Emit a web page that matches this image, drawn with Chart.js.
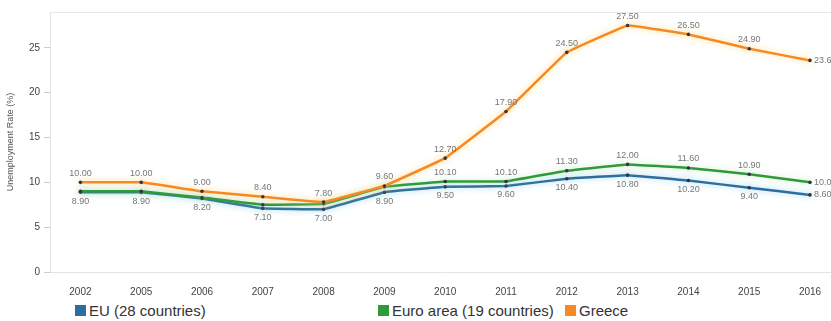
<!DOCTYPE html>
<html lang="en">
<head>
  <meta charset="utf-8"/>
  <title>Unemployment Rate – EU, Euro area, Greece</title>
  <script src="https://cdn.jsdelivr.net/npm/chart.js"></script>
  <style>
    html,body{margin:0;padding:0;background:#fff;overflow:hidden}
    body{width:831px;height:321px;position:relative;font-family:"Liberation Sans",Arial,sans-serif}
    #chart{position:absolute;left:0;top:0}
    .legend{position:absolute;top:302px;font-size:15px;color:#333;display:flex;align-items:center;white-space:nowrap}
    .legend i{display:inline-block;width:11px;height:11px;margin-right:3px}
  </style>
</head>
<body>
<canvas id="chart" width="845" height="295"></canvas>
<div id="legend"></div>

<script>
const years=['2002','2005','2006','2007','2008','2009','2010','2011','2012','2013','2014','2015','2016'];
const eu28=[8.9,8.9,8.2,7.1,7.0,8.9,9.5,9.6,10.4,10.8,10.2,9.4,8.6];
const euroArea=[9.0,9.0,8.3,7.5,7.6,9.5,10.1,10.1,11.3,12.0,11.6,10.9,10.0];
const greece=[10.0,10.0,9.0,8.4,7.8,9.6,12.7,17.9,24.5,27.5,26.5,24.9,23.6];
const yTicks=[0,5,10,15,20,25];
const yMax=29;

const seriesNames=['EU (28 countries)','Euro area (19 countries)','Greece'];
const seriesColors=['#2e6e9e','#2f9a3a','#f58a25'];
const glowColors=['rgba(120,200,240,0.7)','rgba(150,220,150,0.5)','rgba(255,210,110,0.8)'];
const labelSide=['below','above','above'];
const legendX=[75,378,565];

// legend under the chart
const lg=document.getElementById('legend');
seriesNames.forEach((n,i)=>{
  const d=document.createElement('div');d.className='legend';d.style.left=legendX[i]+'px';
  d.innerHTML=`<i style="background:${seriesColors[i]}"></i>${n}`;
  lg.appendChild(d);
});

// soft halo round each line
const glow={
  id:'glow',
  beforeDatasetDraw(chart,args){
    const c=chart.ctx;c.save();
    c.shadowColor=chart.data.datasets[args.index].glow;c.shadowBlur=6;
  },
  afterDatasetDraw(chart){chart.ctx.restore();}
};

// value labels, skipped when they would collide; last point gets its label on the right
const valueLabels={
  id:'valueLabels',
  afterDatasetsDraw(chart){
    const c=chart.ctx,boxes=[];
    c.save();
    c.font='9px "Liberation Sans",Arial,sans-serif';
    c.fillStyle='#777';c.textBaseline='middle';
    [0,2,1].forEach(di=>{
      const ds=chart.data.datasets[di];
      const meta=chart.getDatasetMeta(di);
      meta.data.forEach((pt,i)=>{
        const txt=ds.data[i].toFixed(2),w=c.measureText(txt).width,h=9;
        if(i===meta.data.length-1){
          c.textAlign='left';c.fillText(txt,pt.x+4,pt.y);
          boxes.push({x:pt.x+4,y:pt.y-h/2,w,h});
          return;
        }
        c.textAlign='center';
        const tries=ds.side==='above'?[-9,9]:[9,-9];
        for(const dy of tries){
          const b={x:pt.x-w/2,y:pt.y+dy-h/2,w,h};
          if(!boxes.some(o=>b.x<o.x+o.w&&o.x<b.x+b.w&&b.y<o.y+o.h&&o.y<b.y+b.h)){
            boxes.push(b);c.fillText(txt,pt.x,pt.y+dy);break;
          }
        }
      });
    });
    c.restore();
  }
};

const mk=(i,data)=>({
  label:seriesNames[i],data,side:labelSide[i],glow:glowColors[i],
  borderColor:seriesColors[i],backgroundColor:seriesColors[i],
  borderWidth:2.5,tension:0.05,
  pointRadius:1.8,pointBackgroundColor:'#334',pointBorderWidth:0
});

new Chart(document.getElementById('chart'),{
  type:'line',
  data:{labels:years,datasets:[mk(2,greece),mk(1,euroArea),mk(0,eu28)]},
  plugins:[glow,valueLabels],
  options:{
    responsive:false,animation:false,devicePixelRatio:1,
    layout:{padding:{top:12,right:4.6,left:5,bottom:0}},
    plugins:{legend:{display:false},tooltip:{enabled:false}},
    scales:{
      x:{
        offset:true,
        grid:{display:false},
        border:{color:'#e4e4e4'},
        ticks:{color:'#444',font:{size:10},padding:6},
        afterFit(s){s.height=23;}
      },
      y:{
        min:0,max:yMax,
        afterBuildTicks(s){s.ticks=yTicks.concat([yMax]).map(v=>({value:v}));},
        ticks:{color:'#444',font:{size:10},padding:4,callback:v=>yTicks.includes(v)?v:''},
        grid:{
          drawOnChartArea:true,tickLength:6,
          color:c=>c.tick&&c.tick.value===yMax?'#e8e8e8':'rgba(0,0,0,0)',
          tickColor:c=>c.tick&&c.tick.value===yMax?'rgba(0,0,0,0)':'#ccc'
        },
        border:{color:'#e4e4e4'},
        title:{display:true,text:'Unemployment Rate (%)',color:'#555',font:{size:9},padding:{top:0,bottom:6}},
        afterFit(s){s.width=45;}
      }
    }
  }
});
</script>
</body>
</html>
